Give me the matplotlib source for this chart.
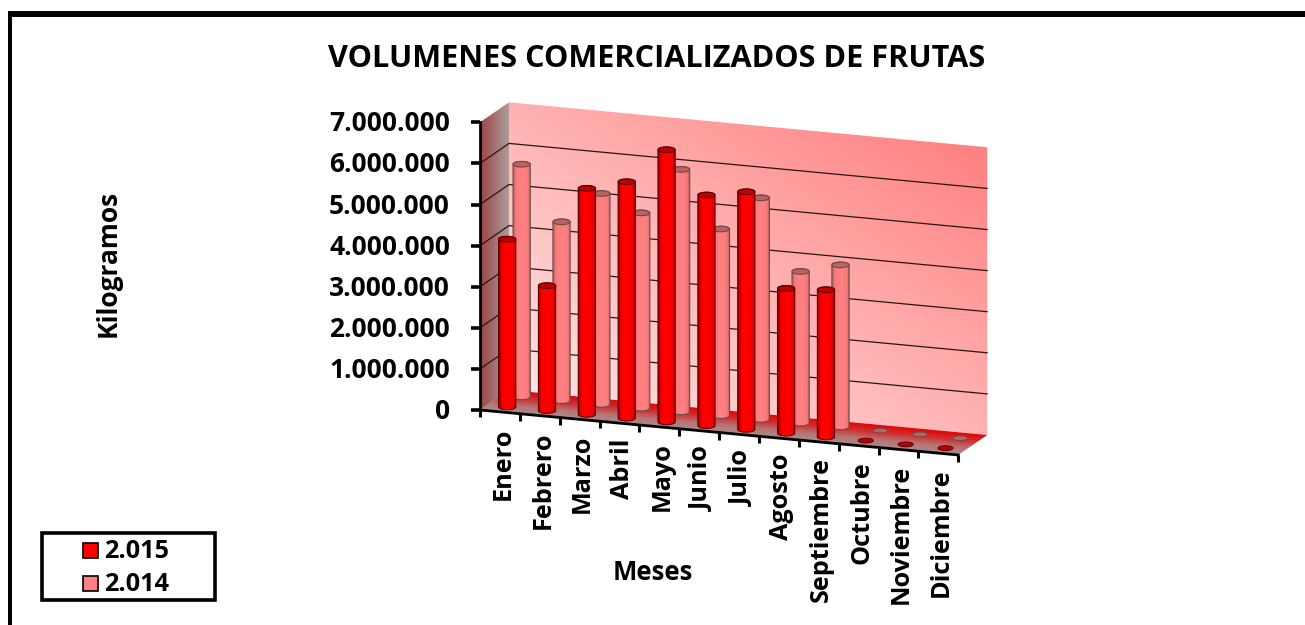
import numpy as np
import matplotlib
matplotlib.use("Agg")
import matplotlib.pyplot as plt
from matplotlib.patches import Polygon, Rectangle
from matplotlib.colors import LinearSegmentedColormap

months = ["Enero", "Febrero", "Marzo", "Abril", "Mayo", "Junio", "Julio",
          "Agosto", "Septiembre", "Octubre", "Noviembre", "Diciembre"]
values_2015 = [4080000, 3040000, 5500000, 5750000, 6620000, 5610000, 5780000,
               3520000, 3580000, 0, 0, 0]
values_2014 = [5660000, 4350000, 5130000, 4750000, 5900000, 4540000, 5390000,
               3690000, 3940000, 0, 0, 0]
y_ticks = [0, 1000000, 2000000, 3000000, 4000000, 5000000, 6000000, 7000000]
y_labels = ["0", "1.000.000", "2.000.000", "3.000.000", "4.000.000",
            "5.000.000", "6.000.000", "7.000.000"]

FONT = "Open Sans"
W, H = 1305, 625


def project(month, depth, value):
    # oblique 3d -> pixel position, month 0..12, depth 0..1
    px = 480 + 39.85 * month + 29 * depth
    py = 410 + 3.75 * month - 20 * depth - value * 41.1 / 1e6
    return px, py


def gradient_fill(ax, pts, colors, direction, zorder):
    # paints a linear gradient along direction (pixels), clipped to the polygon pts
    pts = np.array(pts)
    x0, y0 = pts.min(axis=0)
    x1, y1 = pts.max(axis=0)
    cmap = LinearSegmentedColormap.from_list("g", colors)
    xx, yy = np.meshgrid(np.linspace(x0, x1, 300), np.linspace(y0, y1, 300))
    g = xx * direction[0] + yy * direction[1]
    along = pts[:, 0] * direction[0] + pts[:, 1] * direction[1]
    g = np.clip((g - along.min()) / (along.max() - along.min()), 0, 1)
    im = ax.imshow(g, cmap=cmap, extent=(x0, x1, y1, y0), aspect="auto",
                   zorder=zorder, interpolation="bilinear", vmin=0, vmax=1)
    patch = Polygon(pts, closed=True, transform=ax.transData, fc="none", ec="none")
    ax.add_patch(patch)
    im.set_clip_path(patch)


def ellipse_pts(cx, cy, a, b, t0, t1, n=30):
    t = np.linspace(t0, t1, n)
    return np.column_stack([cx + a * np.cos(t), cy + b * np.sin(t)])


def cylinder(ax, month, depth, value, side, top, edge, zorder):
    cx, y_base = project(month, depth, 0)
    _, y_top = project(month, depth, value)
    a, b = 8.6, 2.8
    if value == 0:
        pts = ellipse_pts(cx, y_base, a - 1, b - 0.4, 0, 2 * np.pi)
        ax.add_patch(Polygon(pts, closed=True, fc=top, ec=edge, lw=0.7, zorder=zorder))
        return
    low = ellipse_pts(cx, y_base, a, b, 0, np.pi)
    high = ellipse_pts(cx, y_top, a, b, np.pi, 2 * np.pi)
    body = np.vstack([low, high])
    gradient_fill(ax, body, side, (1, 0), zorder)
    ax.add_patch(Polygon(body, closed=True, fc="none", ec=edge, lw=0.8, zorder=zorder + 0.1))
    cap = ellipse_pts(cx, y_top, a, b, 0, 2 * np.pi)
    ax.add_patch(Polygon(cap, closed=True, fc=top, ec=edge, lw=0.8, zorder=zorder + 0.2))


fig = plt.figure(figsize=(W / 100, H / 100), dpi=100)
ax = fig.add_axes([0, 0, 1, 1])
ax.set_xlim(0, W)
ax.set_ylim(H, 0)
ax.axis("off")

# outer frame, only top and left fall inside the picture
ax.add_patch(Rectangle((8, 11), W, 5.5, fc="black", ec="none"))
ax.add_patch(Rectangle((8, 11), 3.5, H, fc="black", ec="none"))

top_value = y_ticks[-1]
# back wall
gradient_fill(ax, [project(0, 1, 0), project(12, 1, 0), project(12, 1, top_value), project(0, 1, top_value)],
              ["#FFE4E4", "#FF8080"], (1, -1.5), 1)
# left wall
gradient_fill(ax, [project(0, 0, 0), project(0, 1, 0), project(0, 1, top_value), project(0, 0, top_value)],
              ["#9C4444", "#AC9C9C"], (1, 0), 1)
# floor
gradient_fill(ax, [project(0, 0, 0), project(12, 0, 0), project(12, 1, 0), project(0, 1, 0)],
              ["#A88C8C", "#B87474", "#D03030", "#E00404"], (0.094, -1), 1)

for v in y_ticks[1:-1]:
    xs, ys = zip(project(0, 0, v), project(0, 1, v), project(12, 1, v))
    ax.plot(xs, ys, color="#2A1515", lw=0.9, zorder=2)

# axes lines and ticks
xs, ys = zip(project(0, 0, 0), project(0, 0, top_value))
ax.plot(xs, ys, color="black", lw=2, zorder=8)
xs, ys = zip(project(0, 0, 0), project(12, 0, 0))
ax.plot(xs, ys, color="black", lw=2, zorder=8)
for v, lab in zip(y_ticks, y_labels):
    px, py = project(0, 0, v)
    ax.plot([px - 9, px], [py, py], color="black", lw=2.6, zorder=8, solid_capstyle="butt")
    ax.text(px - 30, py + 1.5, lab, ha="right", va="center", fontsize=19, fontweight="bold",
            family=FONT, color="black")
for m in range(13):
    px, py = project(m, 0, 0)
    ax.plot([px, px], [py, py + 7], color="black", lw=2.2, zorder=8, solid_capstyle="butt")

for m, lab in enumerate(months):
    px, py = project(m + 0.5, 0, 0)
    # anchored on the baseline so descenders do not shift the word sideways
    ax.text(px + 9.5, py + 15.5, lab, rotation=90, ha="right", va="baseline", rotation_mode="anchor",
            fontsize=18.2, fontweight="bold", family=FONT, color="black")

# bars, back to front so the nearer ones overlap
side_2015 = ["#8E0000", "#F00000", "#FF0000", "#FF0000", "#FF0000", "#E80000", "#A00000"]
side_2014 = ["#B06060", "#F87A7A", "#FF8080", "#FF8080", "#FF8080", "#F87A7A", "#B06060"]
for m in range(12):
    cylinder(ax, m + 0.5, 0.75, values_2014[m], side_2014, "#C06060", "#6B4A4A", 3 + m * 0.01)
for m in range(12):
    cylinder(ax, m + 0.5, 0.25, values_2015[m], side_2015, "#C00000", "#5A0000", 5 + m * 0.01)

ax.text(657, 59, "VOLUMENES COMERCIALIZADOS DE FRUTAS", ha="center", va="center",
        fontsize=22.1, fontweight="bold", family=FONT)
ax.text(108, 263.5, "Kilogramos", rotation=90, ha="center", va="center",
        fontsize=19, fontweight="bold", family=FONT)
ax.text(653, 572.5, "Meses", ha="center", va="center", fontsize=18.5, fontweight="bold", family=FONT)

# legend
ax.add_patch(Rectangle((42, 533), 173, 67, fc="white", ec="black", lw=2.6, zorder=9))
for y0, col, lab in [(550, "#FF0000", "2.015"), (583, "#FF8080", "2.014")]:
    ax.add_patch(Rectangle((83, y0 - 7.5), 15, 15, fc=col, ec="black", lw=1.2, zorder=10))
    ax.text(104, y0 + 1.5, lab, ha="left", va="center", fontsize=18.2, fontweight="bold",
            family=FONT, zorder=10)

fig.savefig("out.png", dpi=100)
